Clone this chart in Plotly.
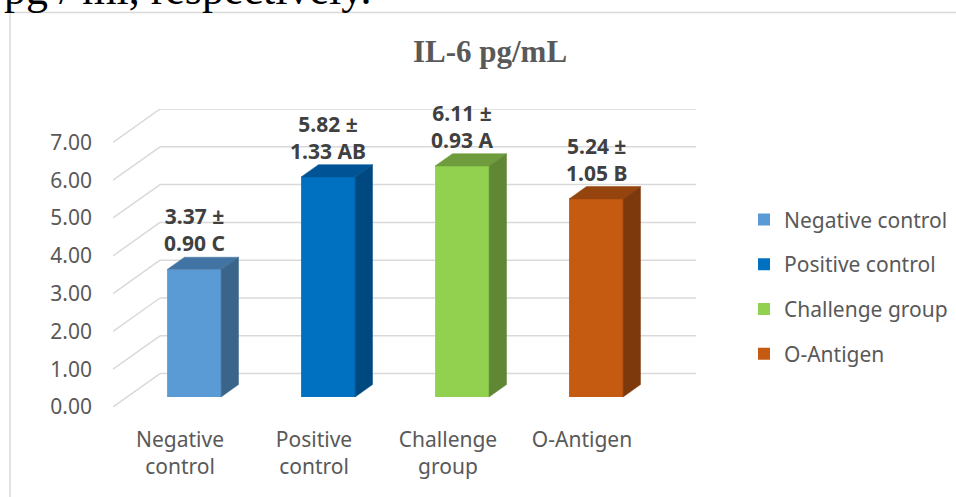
import plotly.graph_objects as go

# ---- data -------------------------------------------------------------
groups = ["Negative control", "Positive control", "Challenge group", "O-Antigen"]
axis_labels = ["Negative<br>control", "Positive<br>control", "Challenge<br>group", "O-Antigen"]
means = [3.37, 5.82, 6.11, 5.24]
sds = [0.90, 1.33, 0.93, 1.05]
letters = ["C", "AB", "A", "B"]
y_ticks = [0, 1, 2, 3, 4, 5, 6, 7]

# ---- styling ----------------------------------------------------------
front_cols = ["#5B9BD5", "#0070C0", "#92D050", "#C55A11"]
top_cols = ["#4274A3", "#005496", "#6F9D3D", "#95440D"]
side_cols = ["#3A6489", "#004880", "#5F8734", "#7D390B"]
grid_col = "#D9D9D9"
text_col = "#595959"
label_col = "#404040"
FONT = "Noto Sans"

W, H = 956, 497
ML, MR, MT, MB = 113, 260, 108.7, 89.5
plot_w = W - ML - MR
plot_h = H - MT - MB

# 3-D projection of the floor depth (in axis units)
DX = 0.351          # horizontal depth shift
DY = 0.884          # vertical depth shift
FRONT = 0.30        # depth fraction where the bar front sits
SIDE = 0.37         # depth fraction covered by the bar side
BAR_W = 0.403
x_range = [-0.5, 3.5 + DX]
y_range = [0, 7 + DY]


def px_to_paper_x(px):
    return (px - ML) / plot_w


def px_to_paper_y(py):
    return (H - MB - py) / plot_h


fig = go.Figure()

# front faces of the bars
for i, (g, m) in enumerate(zip(groups, means)):
    cx = i + FRONT * DX
    fig.add_trace(go.Bar(
        x=[cx], y=[m], base=[FRONT * DY], width=BAR_W,
        name=g, legendgroup=g,
        marker=dict(color=front_cols[i], line=dict(width=0)),
        hoverinfo="skip",
    ))

# top and side faces
for i, m in enumerate(means):
    cx = i + FRONT * DX
    xl, xr = cx - BAR_W / 2, cx + BAR_W / 2
    b = FRONT * DY
    t = b + m
    sx, sy = SIDE * DX, SIDE * DY
    fig.add_trace(go.Scatter(
        x=[xl, xr, xr + sx, xl + sx, xl], y=[t, t, t + sy, t + sy, t],
        mode="lines", fill="toself", fillcolor=top_cols[i],
        line=dict(color=top_cols[i], width=0.5),
        showlegend=False, hoverinfo="skip",
    ))
    fig.add_trace(go.Scatter(
        x=[xr, xr + sx, xr + sx, xr, xr], y=[b, b + sy, t + sy, t, b],
        mode="lines", fill="toself", fillcolor=side_cols[i],
        line=dict(color=side_cols[i], width=0.5),
        showlegend=False, hoverinfo="skip",
    ))

# back wall and side wall gridlines
shapes = []
for v in y_ticks:
    shapes.append(dict(type="line", xref="x", yref="y", layer="below",
                       x0=-0.5 + DX, y0=v + DY, x1=3.5 + DX, y1=v + DY,
                       line=dict(color=grid_col, width=1.5)))
    shapes.append(dict(type="line", xref="x", yref="y", layer="below",
                       x0=-0.5, y0=v, x1=-0.5 + DX, y1=v + DY,
                       line=dict(color=grid_col, width=1.5)))

# chart frame
shapes.append(dict(type="rect", xref="paper", yref="paper", layer="below",
                   x0=px_to_paper_x(10), y0=px_to_paper_y(12),
                   x1=px_to_paper_x(W + 20), y1=px_to_paper_y(H + 20),
                   line=dict(color=grid_col, width=1.5),
                   fillcolor="rgba(0,0,0,0)"))

# value labels
annotations = []
for i, (m, s, l) in enumerate(zip(means, sds, letters)):
    cx = i + FRONT * DX
    annotations.append(dict(
        x=cx, y=FRONT * DY + m + SIDE * DY, xref="x", yref="y",
        text=f"<b>{m:.2f} ±<br>{s:.2f} {l}</b>",
        showarrow=False, xanchor="center", yanchor="bottom", yshift=-2,
        font=dict(family=FONT, size=21, color=label_col),
    ))

# running text from the page above the chart
annotations.append(dict(
    x=px_to_paper_x(2), y=px_to_paper_y(6), xref="paper", yref="paper",
    text="pg / ml, respectively.", showarrow=False,
    xanchor="left", yanchor="bottom", yshift=-9,
    font=dict(family="Liberation Serif", size=44, color="#000000"),
))

fig.update_layout(
    width=W, height=H,
    margin=dict(l=ML, r=MR, t=MT, b=MB, autoexpand=False),
    paper_bgcolor="white", plot_bgcolor="white",
    barmode="overlay",
    title=dict(text="<b>IL-6 pg/mL</b>", x=490 / W, y=1 - 51 / H,
               xref="container", yref="container",
               xanchor="center", yanchor="middle",
               font=dict(family="Liberation Serif", size=31, color=text_col)),
    xaxis=dict(range=x_range, tickvals=[0, 1, 2, 3], ticktext=axis_labels,
               showgrid=False, zeroline=False, showline=False, ticks="",
               ticklabelstandoff=18,
               tickfont=dict(family=FONT, size=21, color=text_col),
               fixedrange=True),
    yaxis=dict(range=y_range, tickvals=y_ticks,
               ticktext=[f"{v:.2f}" for v in y_ticks],
               showgrid=False, zeroline=False, showline=False, ticks="",
               ticklabelstandoff=20,
               tickfont=dict(family=FONT, size=21, color=text_col),
               fixedrange=True),
    legend=dict(x=px_to_paper_x(744), y=px_to_paper_y(287),
                xanchor="left", yanchor="middle",
                tracegroupgap=14.5, bgcolor="rgba(0,0,0,0)",
                font=dict(family=FONT, size=21, color=text_col)),
    shapes=shapes,
    annotations=annotations,
)

fig.write_html("out.html")
